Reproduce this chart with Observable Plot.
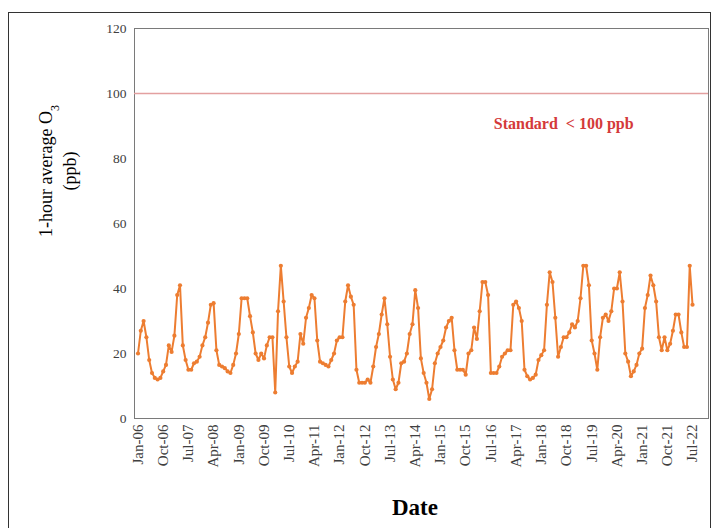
<!DOCTYPE html>
<html><head><meta charset="utf-8">
<script src="https://cdn.jsdelivr.net/npm/d3@7"></script>
<script src="https://cdn.jsdelivr.net/npm/@observablehq/plot@0.6"></script>
<style>
body{margin:0;background:#fff;}
#chart{position:relative;width:712px;height:528px;overflow:hidden;}
</style></head><body><div id="chart"></div>
<script>
// Monthly 1-hour average O3 (ppb), Jan-06 .. Jul-22
const o3 = [
  20, 27, 30, 25, 18, 14, 12.5, 12, 12.5, 14.5, 16.5, 22.5,
  20.5, 25.5, 38, 41, 22.5, 18, 15, 15, 17, 17.5, 19, 22.5,
  25, 29.5, 35, 35.5, 21, 16.5, 16, 15.5, 14.5, 14, 16.5, 20,
  26, 37, 37, 37, 31.5, 26.5, 20, 18, 20, 18.5, 22.5, 25,
  25, 8, 33, 47, 36, 25, 16, 14, 16, 17.5, 26, 23,
  31, 34, 38, 37, 24, 17.5, 17, 16.5, 16, 18, 20, 24,
  25, 25, 36, 41, 37.5, 35, 15, 11, 11, 11, 12, 11,
  16, 22, 26, 32, 37, 29, 19, 12, 9, 11, 17, 17.5,
  20, 26, 29, 39.5, 34, 18.5, 14, 11, 6, 9, 17, 20,
  22, 24, 28, 30, 31, 21, 15, 15, 15, 13.5, 20, 21,
  28, 24.5, 33, 42, 42, 38, 14, 14, 14, 16, 19, 20,
  21, 21, 35, 36, 34, 30, 15, 13, 12, 12.5, 13.5, 18,
  19.5, 21, 35, 45, 42, 31, 19, 22, 25, 25, 26.5, 29,
  28, 30, 37, 47, 47, 41, 24, 20, 15, 25, 31, 32,
  30, 33, 40, 40, 45, 36, 20, 17.5, 13, 14.5, 16.5, 20,
  21.5, 34, 38, 44, 41, 36, 25, 21, 25, 21, 23, 27,
  32, 32, 26.5, 22, 22, 47, 35
];
const tickLabels = ["Jan-06","Oct-06","Jul-07","Apr-08","Jan-09","Oct-09","Jul-10","Apr-11",
  "Jan-12","Oct-12","Jul-13","Apr-14","Jan-15","Oct-15","Jul-16","Apr-17","Jan-18","Oct-18",
  "Jul-19","Apr-20","Jan-21","Oct-21","Jul-22"];
const tickStep = 9; // months between labels
const yTicks = [0, 20, 40, 60, 80, 100, 120];
const standard = [100];
const standardLabel = ["Standard\u00a0\u00a0< 100 ppb"];
const standardLabelPos = {m: 152, v: 90.8};
const yTitle1 = "1-hour average O";
const yTitleSub = "3";
const yTitle2 = "(ppb)";
const xTitle = "Date";

const data = o3.map((v, i) => ({m: i, v}));
const tickIdx = tickLabels.map((_, k) => k * tickStep);
const orange = "#ED7D31";
const serif = "'Liberation Serif','Times New Roman',serif";

const plot = Plot.plot({
  width: 712, height: 528,
  marginLeft: 134, marginRight: 4, marginTop: 28, marginBottom: 110,
  style: {fontFamily: serif, fontSize: "13.5px", background: "white", color: "#404040", overflow: "visible"},
  x: {domain: [-1.25, 203.7], label: null},
  y: {domain: [0, 120], label: null},
  marks: [
    Plot.frame({stroke: "#7a7a7a"}),
    Plot.axisY({ticks: yTicks, tickSize: 0, tickPadding: 8, label: null, fontSize: 13.5}),
    Plot.axisX({ticks: tickIdx, tickFormat: i => tickLabels[Math.round(i / tickStep)], tickRotate: -90, tickSize: 0, tickPadding: 6, label: null, fontSize: 15}),
    Plot.ruleY(standard, {stroke: "#e3a0a0", strokeWidth: 1.3}),
    Plot.text(standardLabel, {x: () => standardLabelPos.m, y: () => standardLabelPos.v, text: d => d, fill: "#d43a3a", fontWeight: "bold", fontSize: 16}),
    Plot.line(data, {x: "m", y: "v", stroke: orange, strokeWidth: 2}),
    Plot.dot(data, {x: "m", y: "v", r: 2.1, fill: orange, stroke: "none"})
  ]
});
document.getElementById("chart").appendChild(plot);

const svg = d3.select(plot);
svg.append("rect").attr("x", 8.5).attr("y", 12.5).attr("width", 702).attr("height", 530)
  .attr("fill", "none").attr("stroke", "#333").attr("stroke-width", 1);
const t1 = svg.append("text").attr("transform", "translate(52,171) rotate(-90)")
  .attr("text-anchor", "middle").attr("font-size", 18).attr("fill", "#000")
  .attr("font-family", serif);
t1.append("tspan").text(yTitle1);
t1.append("tspan").attr("baseline-shift", "sub").attr("font-size", 12).text(yTitleSub);
svg.append("text").attr("transform", "translate(76,171) rotate(-90)")
  .attr("text-anchor", "middle").attr("font-size", 18).attr("fill", "#000")
  .attr("font-family", serif).text(yTitle2);
svg.append("text").attr("x", 415).attr("y", 515).attr("text-anchor", "middle")
  .attr("font-size", 23).attr("font-weight", "bold").attr("fill", "#000")
  .attr("font-family", serif).text(xTitle);
</script></body></html>
